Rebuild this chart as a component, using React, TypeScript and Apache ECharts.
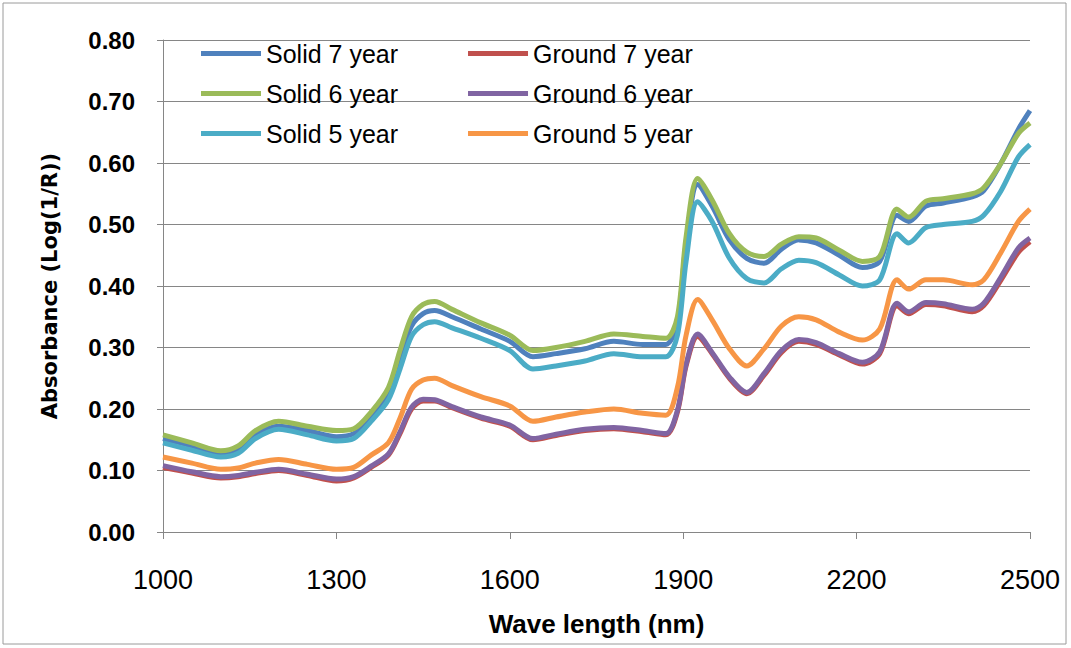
import React, { useEffect, useRef } from "react";
import * as echarts from "echarts";

const wavelengths = [1000, 1050, 1100, 1130, 1160, 1200, 1250, 1300, 1330, 1360, 1390, 1410, 1430, 1450, 1470, 1500, 1550, 1600, 1640, 1680, 1730, 1780, 1830, 1870, 1890, 1905, 1925, 1950, 1980, 2010, 2040, 2070, 2100, 2130, 2170, 2210, 2240, 2270, 2290, 2320, 2350, 2400, 2420, 2450, 2480, 2500];

const solid7 = [0.152, 0.140, 0.127, 0.133, 0.158, 0.172, 0.165, 0.155, 0.160, 0.185, 0.225, 0.285, 0.335, 0.355, 0.360, 0.350, 0.330, 0.310, 0.285, 0.290, 0.298, 0.310, 0.305, 0.305, 0.340, 0.470, 0.565, 0.530, 0.475, 0.445, 0.437, 0.460, 0.475, 0.470, 0.450, 0.430, 0.440, 0.515, 0.505, 0.530, 0.535, 0.545, 0.555, 0.600, 0.655, 0.685];
const ground7 = [0.105, 0.096, 0.088, 0.090, 0.095, 0.100, 0.092, 0.083, 0.088, 0.105, 0.125, 0.160, 0.200, 0.213, 0.213, 0.202, 0.185, 0.172, 0.150, 0.157, 0.165, 0.168, 0.163, 0.158, 0.195, 0.270, 0.318, 0.290, 0.250, 0.225, 0.255, 0.292, 0.310, 0.305, 0.288, 0.273, 0.290, 0.368, 0.355, 0.370, 0.368, 0.358, 0.368, 0.410, 0.455, 0.472];
const solid6 = [0.158, 0.145, 0.132, 0.140, 0.165, 0.180, 0.172, 0.165, 0.168, 0.195, 0.235, 0.295, 0.350, 0.370, 0.375, 0.362, 0.340, 0.320, 0.295, 0.300, 0.310, 0.322, 0.318, 0.315, 0.350, 0.480, 0.575, 0.540, 0.485, 0.455, 0.448, 0.468, 0.480, 0.478, 0.458, 0.440, 0.448, 0.525, 0.512, 0.538, 0.542, 0.550, 0.560, 0.600, 0.648, 0.665];
const ground6 = [0.108, 0.098, 0.090, 0.092, 0.097, 0.102, 0.094, 0.086, 0.090, 0.107, 0.127, 0.163, 0.203, 0.216, 0.215, 0.204, 0.187, 0.174, 0.152, 0.159, 0.167, 0.170, 0.165, 0.160, 0.198, 0.273, 0.322, 0.292, 0.252, 0.227, 0.258, 0.295, 0.313, 0.308, 0.290, 0.276, 0.293, 0.372, 0.358, 0.373, 0.371, 0.362, 0.372, 0.415, 0.462, 0.478];
const solid5 = [0.145, 0.133, 0.122, 0.128, 0.152, 0.167, 0.158, 0.148, 0.152, 0.180, 0.215, 0.265, 0.318, 0.337, 0.342, 0.332, 0.315, 0.295, 0.265, 0.270, 0.278, 0.290, 0.285, 0.285, 0.320, 0.440, 0.537, 0.505, 0.445, 0.412, 0.405, 0.428, 0.442, 0.438, 0.418, 0.400, 0.410, 0.485, 0.470, 0.495, 0.500, 0.505, 0.515, 0.555, 0.610, 0.630];
const ground5 = [0.122, 0.112, 0.102, 0.104, 0.112, 0.118, 0.110, 0.102, 0.105, 0.125, 0.145, 0.185, 0.232, 0.247, 0.250, 0.238, 0.220, 0.205, 0.180, 0.187, 0.195, 0.200, 0.193, 0.190, 0.235, 0.320, 0.378, 0.345, 0.298, 0.270, 0.298, 0.335, 0.350, 0.345, 0.325, 0.312, 0.330, 0.410, 0.395, 0.410, 0.410, 0.402, 0.410, 0.455, 0.505, 0.525];

const xTicks = [1000, 1300, 1600, 1900, 2200, 2500];
const seriesNames = ["Solid 7 year", "Ground 7 year", "Solid 6 year", "Ground 6 year", "Solid 5 year", "Ground 5 year"];
const seriesValues = [solid7, ground7, solid6, ground6, solid5, ground5];
const colors = ["#4F81BD", "#C0504D", "#9BBB59", "#8064A2", "#4BACC6", "#F79646"];

export default function App() {
  const ref = useRef<HTMLDivElement>(null);
  useEffect(() => {
    if (!ref.current) return;
    const chart = echarts.init(ref.current, null, { renderer: "svg" });
    const legendRows = [0, 1, 2].map((r) => ({
      left: 196,
      top: 36 + r * 40,
      orient: "horizontal",
      itemGap: 70,
      itemWidth: 60,
      itemHeight: 5,
      icon: "rect",
      data: [seriesNames[r * 2], seriesNames[r * 2 + 1]],
      textStyle: { fontFamily: "Liberation Sans", fontSize: 25, color: "#000" },
    }));
    chart.setOption({
      animation: false,
      color: colors,
      graphic: [
        {
          type: "rect",
          shape: { x: 3, y: 3, width: 1063, height: 641 },
          style: { fill: "none", stroke: "#9a9a9a", lineWidth: 1 },
          silent: true,
        },
      ],
      legend: legendRows,
      grid: { left: 163, right: 41, top: 40, bottom: 116 },
      xAxis: {
        type: "value",
        min: 1000,
        max: 2500,
        name: "Wave length (nm)",
        nameLocation: "middle",
        nameGap: 79,
        nameTextStyle: { fontFamily: "Liberation Sans", fontWeight: "bold", fontSize: 26, color: "#000" },
        splitLine: { show: false },
        axisLine: { lineStyle: { color: "#868686", width: 1 } },
        axisTick: { show: true, length: 7, lineStyle: { color: "#868686" }, customValues: xTicks },
        axisLabel: {
          customValues: xTicks,
          formatter: (v: number) => String(v),
          margin: 34,
          fontFamily: "Liberation Sans",
          fontSize: 27,
          color: "#000",
        },
      },
      yAxis: {
        type: "value",
        min: 0,
        max: 0.8,
        interval: 0.1,
        name: "Absorbance (Log(1/R))",
        nameLocation: "middle",
        nameGap: 103,
        nameRotate: 90,
        nameTextStyle: { fontFamily: "DejaVu Sans", fontWeight: "bold", fontSize: 21, color: "#000" },
        axisLine: { show: true, lineStyle: { color: "#868686", width: 1 } },
        axisTick: { show: true, length: 6, lineStyle: { color: "#868686" } },
        splitLine: { show: true, lineStyle: { color: "#868686", width: 1 } },
        axisLabel: {
          formatter: (v: number) => v.toFixed(2),
          margin: 28,
          fontFamily: "Liberation Sans",
          fontWeight: "bold",
          fontSize: 24,
          color: "#000",
        },
      },
      series: seriesNames.map((name, i) => ({
        name,
        type: "line",
        smooth: 0.3,
        symbol: "none",
        lineStyle: { width: 5, color: colors[i] },
        itemStyle: { color: colors[i] },
        data: wavelengths.map((w, j) => [w, seriesValues[i][j]]),
      })),
    });
    return () => chart.dispose();
  }, []);
  return (
    <div
      ref={ref}
      style={{ position: "fixed", left: 0, top: 0, width: 1071, height: 648, background: "#fff" }}
    />
  );
}
